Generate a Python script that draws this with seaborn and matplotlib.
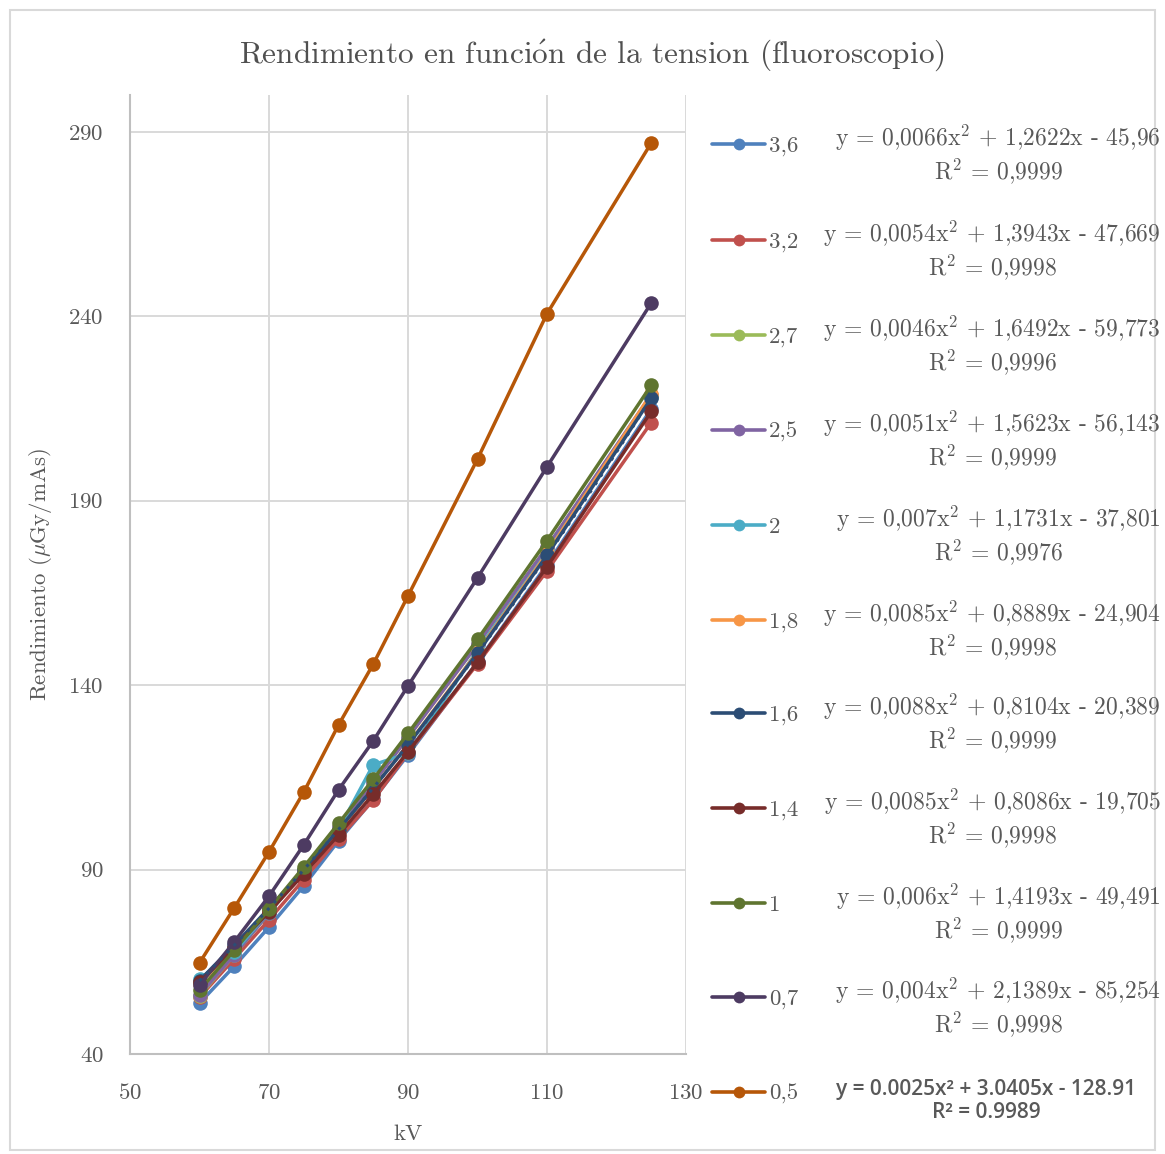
import numpy as np
import pandas as pd
import matplotlib
matplotlib.use("Agg")
import matplotlib.pyplot as plt
import seaborn as sns
from matplotlib.lines import Line2D
from matplotlib.patches import Rectangle

# ---------------- data ----------------
kv = [60, 65, 70, 75, 80, 85, 90, 100, 110, 125]

series_names = ["3,6", "3,2", "2,7", "2,5", "2", "1,8", "1,6", "1,4", "1", "0,7", "0,5"]

y_3_6 = [53.8, 63.8, 74.4, 85.6, 97.8, 109.0, 121.1, 146.3, 172.7, 214.9]
y_3_2 = [55.4, 65.8, 76.4, 87.3, 98.4, 108.8, 121.6, 145.8, 171.0, 211.2]
y_2_7 = [55.7, 66.9, 78.2, 89.8, 101.6, 113.8, 125.9, 151.1, 177.3, 218.3]
y_2_5 = [56.0, 66.9, 78.2, 89.7, 101.5, 113.5, 125.8, 151.1, 177.4, 218.8]
y_2_0 = [60.3, 67.6, 78.6, 89.6, 100.8, 118.4, 121.5, 149.5, 175.9, 218.2]
y_1_8 = [59.0, 68.8, 79.0, 89.6, 100.6, 112.1, 123.9, 149.0, 175.7, 219.0]
y_1_6 = [59.9, 69.5, 79.5, 89.9, 100.8, 112.1, 123.8, 148.7, 175.2, 217.8]
y_1_4 = [59.4, 68.8, 78.5, 88.8, 99.4, 110.4, 121.9, 146.2, 172.1, 214.2]
y_1_0 = [57.3, 68.1, 79.3, 90.7, 102.5, 114.5, 126.9, 152.4, 179.2, 221.3]
y_0_7 = [58.7, 70.4, 82.8, 96.7, 111.6, 124.9, 139.8, 169.1, 199.2, 243.6]
y_0_5 = [64.7, 79.6, 94.8, 111.0, 129.2, 145.7, 164.2, 201.3, 240.7, 287.0]

values = [y_3_6, y_3_2, y_2_7, y_2_5, y_2_0, y_1_8, y_1_6, y_1_4, y_1_0, y_0_7, y_0_5]

equations = [
    "y = 0,0066x$^2$ + 1,2622x - 45,96\nR$^2$ = 0,9999",
    "y = 0,0054x$^2$ + 1,3943x - 47,669\nR$^2$ = 0,9998",
    "y = 0,0046x$^2$ + 1,6492x - 59,773\nR$^2$ = 0,9996",
    "y = 0,0051x$^2$ + 1,5623x - 56,143\nR$^2$ = 0,9999",
    "y = 0,007x$^2$ + 1,1731x - 37,801\nR$^2$ = 0,9976",
    "y = 0,0085x$^2$ + 0,8889x - 24,904\nR$^2$ = 0,9998",
    "y = 0,0088x$^2$ + 0,8104x - 20,389\nR$^2$ = 0,9999",
    "y = 0,0085x$^2$ + 0,8086x - 19,705\nR$^2$ = 0,9998",
    "y = 0,006x$^2$ + 1,4193x - 49,491\nR$^2$ = 0,9999",
    "y = 0,004x$^2$ + 2,1389x - 85,254\nR$^2$ = 0,9998",
    "y = 0.0025x² + 3.0405x - 128.91\nR² = 0.9989",
]

colors = ["#4F81BD", "#C0504D", "#9BBB59", "#8064A2", "#4BACC6", "#F79646",
          "#2C4D75", "#772C2A", "#5F7530", "#4D3B62", "#B65708"]

x_ticks = [50, 70, 90, 110, 130]
y_ticks = [40, 90, 140, 190, 240, 290]

rows = []
for name, vals in zip(series_names, values):
    for x, y in zip(kv, vals):
        rows.append({"kV": x, "Rendimiento": y, "serie": name})
df = pd.DataFrame(rows)

# ---------------- style ----------------
sns.set_theme(style="white")
plt.rcParams["font.family"] = ["cmr10", "DejaVu Serif"]
plt.rcParams["mathtext.fontset"] = "cm"
plt.rcParams["axes.unicode_minus"] = False
plt.rcParams["axes.formatter.use_mathtext"] = True

W, H = 1165, 1154
fig = plt.figure(figsize=(W / 100, H / 100), dpi=100)
fig.patch.set_facecolor("white")

def fx(px):
    return px / W

def fy(py):
    return 1 - py / H

ax = fig.add_axes([fx(130), fy(1054), fx(686) - fx(130), fy(95) - fy(1054)])

grey_txt = "#595959"
sns.lineplot(data=df, x="kV", y="Rendimiento", hue="serie", hue_order=series_names,
             palette=dict(zip(series_names, colors)), marker="o", markersize=10.5,
             markeredgewidth=0, linewidth=2.5, legend=False, errorbar=None, ax=ax)

# dotted polynomial trendline (1,6)
coef = np.polyfit(kv, y_1_6, 2)
xs = np.linspace(kv[0], kv[-1], 200)
ax.plot(xs, np.polyval(coef, xs), linestyle=(0, (1, 2.2)), color="#2C4D75",
        linewidth=2.2, zorder=5)

ax.set_xlim(50, 130)
ax.set_ylim(40, 300)
ax.set_xticks(x_ticks)
ax.set_yticks(y_ticks)
ax.grid(True, color="#d9d9d9", linewidth=1.4)
ax.set_axisbelow(True)
for s in ["top", "right"]:
    ax.spines[s].set_visible(False)
for s in ["left", "bottom"]:
    ax.spines[s].set_color("#bfbfbf")
    ax.spines[s].set_linewidth(1.5)
ax.tick_params(axis="both", length=0, labelsize=16.5, colors=grey_txt)
ax.tick_params(axis="y", pad=19)
ax.tick_params(axis="x", pad=21)
ax.set_xlabel("kV", fontsize=16.5, color=grey_txt)
ax.set_ylabel(r"Rendimiento ($\mu$Gy/mAs)", fontsize=16.5, color=grey_txt)
ax.xaxis.set_label_coords(0.5, (1054 - 1124) / (1054 - 95), transform=ax.transAxes)
ax.yaxis.set_label_coords((54 - 130) / (686 - 130), 0.5, transform=ax.transAxes)

fig.text(fx(592), fy(55), r"Rendimiento en funci$\mathrm{\acute{o}}$n de la tension (fluoroscopio)",
         ha="center", va="center", fontsize=22.5, color="#505050")

# ---------------- legend with trendline equations ----------------
legend_y = [144, 240, 335, 430, 525, 620, 713, 808, 903, 997, 1092]
for name, col, eq, ly in zip(series_names, colors, equations, legend_y):
    fig.add_artist(Line2D([fx(712), fx(765)], [fy(ly), fy(ly)], color=col, linewidth=2.6,
                          transform=fig.transFigure))
    fig.add_artist(Line2D([fx(738.5)], [fy(ly)], color=col, marker="o", markersize=8.5,
                          markeredgewidth=0, transform=fig.transFigure))
    fig.text(fx(769), fy(ly + 2), name, ha="left", va="center", fontsize=16.5, color=grey_txt)
    if name == "0,5":
        fig.text(fx(986), fy(1101), eq, ha="center", va="center", fontsize=15,
                 family=["Open Sans", "DejaVu Sans"], weight="semibold", color=grey_txt,
                 multialignment="center", linespacing=1.1)
    else:
        fig.text(fx(1161), fy(ly + 10), eq, ha="right", va="center", fontsize=17,
                 color=grey_txt, multialignment="center", linespacing=1.15)

fig.add_artist(Rectangle((fx(10), fy(1150)), fx(1155) - fx(10), fy(10) - fy(1150),
                         transform=fig.transFigure, fill=False, edgecolor="#d9d9d9",
                         linewidth=1.5))

fig.savefig("out.png", dpi=100, facecolor="white")
